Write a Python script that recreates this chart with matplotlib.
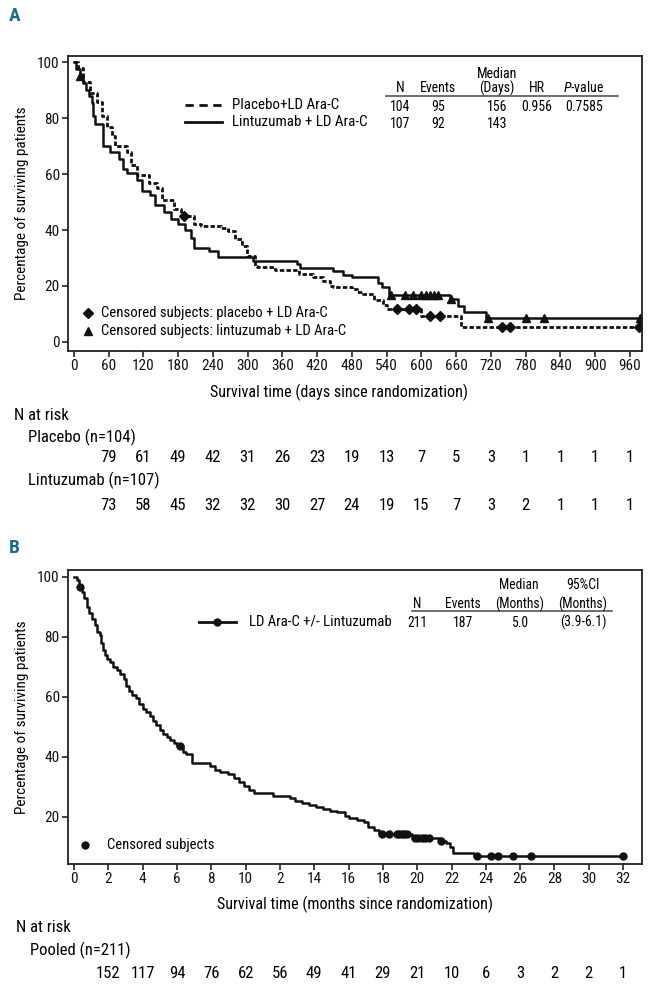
import matplotlib
matplotlib.use('Agg')
import matplotlib.pyplot as plt
from matplotlib import font_manager
from matplotlib.transforms import blended_transform_factory

# condensed face if the system has one, else plain Liberation Sans
fam = 'Liberation Sans'
narrow = False
for f in font_manager.fontManager.ttflist:
    low = f.fname.lower()
    if 'narrow' in low or 'condensed' in low:
        if 'bold' in low or 'italic' in low or 'oblique' in low:
            continue
        fam = f.name
        narrow = True
        if 'liberation' in low:
            break
if narrow:
    plt.rcParams['font.stretch'] = 'condensed'
plt.rcParams['font.family'] = [fam, 'DejaVu Sans']
k = 1.0 if narrow else 0.92   # shrink a little when only the wide face exists

# ---- panel A data (days, % surviving after each step) ----
plac_t = [0, 7, 16, 28, 40, 48, 57, 66, 72, 92, 98, 109, 130, 144, 153, 173, 185, 208, 220,
          255, 267, 278, 290, 299, 313, 316, 348, 389, 413, 430, 442, 447, 480, 489, 500,
          518, 533, 541, 600, 669, 975]
plac_s = [100, 98, 93, 89, 86, 81, 77, 73.5, 70, 68, 63.2, 59.7, 56.7, 54.9, 50.7, 47.7, 45.1,
          42.1, 41.5, 40.9, 39.8, 36.8, 34.4, 30.8, 27.3, 26.7, 25.8, 24.3, 23.1, 21.9, 20.1,
          19.5, 18.9, 17.7, 17.1, 14.8, 13.0, 11.8, 9.4, 5.4, 5.4]
plac_cens_t = [190, 558, 579, 591, 615, 632, 739, 753, 975]
plac_cens_s = [45.1, 11.8, 11.8, 11.8, 9.4, 9.4, 5.4, 5.4, 5.4]

lint_t = [0, 4, 10, 16, 21, 26, 31, 34, 37, 51, 63, 78, 85, 92, 109, 118, 132, 141, 156, 168,
          180, 192, 202, 208, 234, 249, 310, 386, 390, 447, 465, 480, 525, 532, 545, 649, 664,
          673, 711, 977]
lint_s = [100, 97.5, 95, 92.5, 90, 88, 85.5, 81, 78, 70, 68, 65.5, 62, 60.3, 58, 54, 52.5, 49,
          46.5, 44, 42, 40, 37, 33.6, 32.4, 30.2, 29.0, 27.8, 26.4, 25.4, 24.0, 23.3, 21.1,
          19.5, 16.8, 15.3, 12.8, 10.5, 8.6, 8.6]
lint_cens_t = [10, 548, 572, 585, 600, 608, 615, 622, 629, 651, 715, 780, 812, 977]
lint_cens_s = [95, 16.8, 16.8, 16.8, 16.8, 16.8, 16.8, 16.8, 16.8, 15.3, 8.6, 8.6, 8.6, 8.6]

days_ticks = list(range(0, 961, 60))
risk_days = list(range(60, 961, 60))
risk_plac = [79, 61, 49, 42, 31, 26, 23, 19, 13, 7, 5, 3, 1, 1, 1, 1]
risk_lint = [73, 58, 45, 32, 32, 30, 27, 24, 19, 15, 7, 3, 2, 1, 1, 1]

# ---- panel B data (months) ----
pool_t = [0, 0.15, 0.3, 0.45, 0.6, 0.75, 0.9, 1.05, 1.2, 1.35, 1.5, 1.6, 1.7, 1.8, 1.95, 2.1,
          2.3, 2.5, 2.7, 2.9, 3.05, 3.2, 3.4, 3.6, 3.8, 4.0, 4.2, 4.4, 4.6, 4.8, 5.0, 5.2, 5.4,
          5.6, 5.8, 6.0, 6.35, 6.5, 6.85, 7.9, 8.2, 8.5, 9.0, 9.3, 9.6, 9.9, 10.2, 10.5, 11.6,
          12.6, 12.9, 13.3, 13.7, 14.1, 14.5, 14.9, 15.3, 15.8, 16.0, 16.5, 16.9, 17.15, 17.5,
          17.8, 19.7, 21.3, 21.7, 21.9, 22.1, 23.3, 32.0]
pool_s = [100, 99, 96.5, 95, 93, 90, 88, 86, 84, 81.5, 80.5, 78, 75.5, 74, 72.5, 71.5, 70, 69,
          67.5, 66, 63.5, 62, 60.5, 59.5, 57.5, 56, 55, 53.5, 52, 50.5, 49, 47.5, 46.5, 45.5,
          44.5, 43.5, 41.8, 41, 38, 37, 35.5, 35, 34.2, 33, 31.5, 30.2, 29, 28, 27, 26.2, 25.2,
          24.7, 24, 23.3, 22.6, 22, 21.6, 20.2, 19.6, 19.0, 18.3, 16.8, 15.7, 14.2, 13.1, 12.0,
          11.2, 10.1, 7.9, 7.0, 7.0]
pool_cens_t = [0.35, 6.2, 17.94, 18.33, 18.8, 18.95, 19.1, 19.25, 19.4, 19.88, 20.07, 20.27,
               20.46, 20.7, 21.4, 23.47, 24.3, 24.72, 25.56, 26.65, 32.0]
pool_cens_s = [96.5, 43.5, 14.2, 14.2, 14.2, 14.2, 14.2, 14.2, 14.2, 13.1, 13.1, 13.1, 13.1,
               13.1, 12.0, 7.0, 7.0, 7.0, 7.0, 7.0, 7.0]

month_ticks = list(range(0, 33, 2))
month_labels = ['0', '2', '4', '6', '8', '10', '2', '14', '16', '18', '20', '22', '24', '26',
                '28', '30', '32']
risk_months = list(range(2, 33, 2))
risk_pool = [152, 117, 94, 76, 62, 56, 49, 41, 29, 21, 10, 6, 3, 2, 2, 1]

W, H = 648, 986
fig = plt.figure(figsize=(W / 100, H / 100), dpi=100)
ink = '#111111'
blue = '#1b6c8c'

fs_leg = 10.8 * k
fs_tab = 10 * k
fs_lab = 11.6 * k
fs_risk = 12 * k


def fx(x):
    return x / W


def fy(y):
    return 1 - y / H


def style_axes(ax):
    for s in ax.spines.values():
        s.set_linewidth(1.3)
        s.set_color('#222222')
    ax.tick_params(direction='out', length=4, width=1.1, labelsize=11 * k, pad=2, colors=ink)


# ================= panel A =================
axA = fig.add_axes([fx(68), fy(351), fx(574), 295 / H])
style_axes(axA)
axA.step(plac_t, plac_s, where='post', color=ink, lw=2.0, ls=(0, (1.6, 0.8)))
axA.step(lint_t, lint_s, where='post', color=ink, lw=1.8)
axA.plot(plac_cens_t, plac_cens_s, 'D', color=ink, ms=5.5, ls='none')
axA.plot(lint_cens_t, lint_cens_s, '^', color=ink, ms=6, ls='none')
axA.set_xlim(-10, 981)
axA.set_ylim(-3.3, 102.3)
axA.set_xticks(days_ticks)
axA.set_yticks([0, 20, 40, 60, 80, 100])
axA.text(-0.08, 0.5, 'Percentage of surviving patients', transform=axA.transAxes,
         rotation=90, ha='center', va='center', fontsize=11 * k)
axA.text(0.472, -0.139, 'Survival time (days since randomization)', transform=axA.transAxes,
         ha='center', va='center', fontsize=fs_lab)

tA = axA.transAxes
axA.plot([0.204, 0.268], [0.834, 0.834], transform=tA, color=ink, lw=2, ls=(0, (3, 2)))
axA.plot([0.204, 0.268], [0.776, 0.776], transform=tA, color=ink, lw=2)
axA.text(0.286, 0.834, 'Placebo+LD Ara-C', transform=tA, va='center', fontsize=fs_leg)
axA.text(0.286, 0.776, 'Lintuzumab + LD Ara-C', transform=tA, va='center', fontsize=fs_leg)
colsA = [0.578, 0.644, 0.747, 0.816, 0.899]
headA = ['N', 'Events', '(Days)', 'HR', '$\\it{P}$-value']
for c, h in zip(colsA, headA):
    axA.text(c, 0.892, h, transform=tA, ha='center', va='center', fontsize=fs_tab)
axA.text(colsA[2], 0.939, 'Median', transform=tA, ha='center', va='center', fontsize=fs_tab)
axA.plot([0.554, 0.958], [0.864, 0.864], transform=tA, color='#555555', lw=1.2)
for c, v in zip(colsA, ['104', '95', '156', '0.956', '0.7585']):
    axA.text(c, 0.827, v, transform=tA, ha='center', va='center', fontsize=fs_tab)
for c, v in zip(colsA[:3], ['107', '92', '143']):
    axA.text(c, 0.769, v, transform=tA, ha='center', va='center', fontsize=fs_tab)

axA.plot([0.0354], [0.130], 'D', transform=tA, color=ink, ms=5.5)
axA.plot([0.0354], [0.069], '^', transform=tA, color=ink, ms=6)
axA.text(0.057, 0.130, 'Censored subjects: placebo + LD Ara-C', transform=tA, va='center',
         fontsize=10.6 * k)
axA.text(0.057, 0.069, 'Censored subjects: lintuzumab + LD Ara-C', transform=tA, va='center',
         fontsize=10.6 * k)

fig.text(fx(9), fy(16), 'A', color=blue, fontsize=14, fontweight='bold', va='center')

trA = blended_transform_factory(axA.transData, fig.transFigure)
fig.text(fx(14), fy(416), 'N at risk', fontsize=fs_risk, va='center')
fig.text(fx(28), fy(437), 'Placebo (n=104)', fontsize=fs_risk, va='center')
fig.text(fx(28), fy(480), 'Lintuzumab (n=107)', fontsize=fs_risk, va='center')
for d, n in zip(risk_days, risk_plac):
    axA.text(d, fy(458), str(n), transform=trA, ha='center', va='center', fontsize=fs_risk)
for d, n in zip(risk_days, risk_lint):
    axA.text(d, fy(505), str(n), transform=trA, ha='center', va='center', fontsize=fs_risk)

# ================= panel B =================
axB = fig.add_axes([fx(68), fy(864), fx(574), 294 / H])
style_axes(axB)
axB.step(pool_t, pool_s, where='post', color=ink, lw=1.8)
axB.plot(pool_cens_t, pool_cens_s, 'o', color=ink, ms=5, ls='none')
axB.set_xlim(-0.35, 33.1)
axB.set_ylim(4.3, 102.3)
axB.set_xticks(month_ticks)
axB.set_xticklabels(month_labels)
axB.set_yticks([20, 40, 60, 80, 100])
axB.text(-0.08, 0.5, 'Percentage of surviving patients', transform=axB.transAxes,
         rotation=90, ha='center', va='center', fontsize=11 * k)
axB.text(0.5, -0.136, 'Survival time (months since randomization)', transform=axB.transAxes,
         ha='center', va='center', fontsize=fs_lab)

tB = axB.transAxes
axB.plot([0.228, 0.293], [0.824, 0.824], transform=tB, color=ink, lw=2)
axB.plot([0.260], [0.824], 'o', transform=tB, color=ink, ms=5)
axB.text(0.316, 0.824, 'LD Ara-C +/- Lintuzumab', transform=tB, va='center',
         fontsize=10.6 * k)
colsB = [0.609, 0.688, 0.786, 0.897]
for c, h in zip(colsB, ['N', 'Events', '(Months)', '(Months)']):
    axB.text(c, 0.884, h, transform=tB, ha='center', va='center', fontsize=9.8 * k)
axB.text(colsB[2], 0.949, 'Median', transform=tB, ha='center', va='center', fontsize=9.8 * k)
axB.text(colsB[3], 0.949, '95%CI', transform=tB, ha='center', va='center', fontsize=9.8 * k)
axB.plot([0.600, 0.948], [0.862, 0.862], transform=tB, color='#555555', lw=1.2)
for c, v in zip(colsB, ['211', '187', '5.0', '(3.9-6.1)']):
    axB.text(c, 0.821, v, transform=tB, ha='center', va='center', fontsize=9.8 * k)
axB.plot([0.030], [0.065], 'o', transform=tB, color=ink, ms=5)
axB.text(0.068, 0.065, 'Censored subjects', transform=tB, va='center', fontsize=10.5 * k)

fig.text(fx(9), fy(548), 'B', color=blue, fontsize=14, fontweight='bold', va='center')

trB = blended_transform_factory(axB.transData, fig.transFigure)
fig.text(fx(16), fy(928), 'N at risk', fontsize=fs_risk, va='center')
fig.text(fx(30), fy(950), 'Pooled (n=211)', fontsize=fs_risk, va='center')
for m, n in zip(risk_months, risk_pool):
    axB.text(m, fy(973), str(n), transform=trB, ha='center', va='center', fontsize=fs_risk)

fig.savefig('out.png', dpi=100)
